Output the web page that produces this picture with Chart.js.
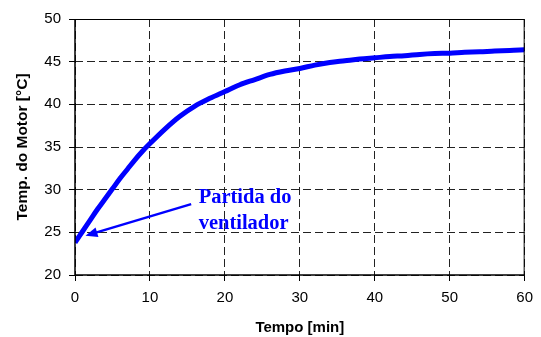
<!DOCTYPE html>
<html>
<head>
<meta charset="utf-8">
<script src="https://cdn.jsdelivr.net/npm/chart.js@4/dist/chart.umd.min.js"></script>
<style>
  html, body { margin: 0; padding: 0; background: #fff; }
  #wrap { width: 541px; height: 337px; position: relative; }
</style>
</head>
<body>
<div id="wrap"><canvas id="motorChart"></canvas></div>
<script>
// Data
const tempo = [0, 1, 2, 3, 4, 5, 6, 7, 8, 9, 10, 12, 14, 16, 18, 20, 22, 24, 26, 28, 30,
               32, 34, 36, 38, 40, 42, 44, 46, 48, 50, 52, 54, 56, 58, 60];
const temperatura = [23.8, 25.1, 26.4, 27.7, 28.9, 30.1, 31.3, 32.4, 33.5, 34.5, 35.4,
                     37.1, 38.6, 39.8, 40.7, 41.5, 42.3, 42.9, 43.5, 43.9, 44.2,
                     44.6, 44.9, 45.1, 45.3, 45.45, 45.6, 45.7, 45.85, 45.95, 46.0,
                     46.1, 46.15, 46.25, 46.3, 46.4];
const xTicks = [0, 10, 20, 30, 40, 50, 60];
const yTicks = [20, 25, 30, 35, 40, 45, 50];
const noteLines = ['Partida do', 'ventilador'];

// Frame + arrow + label, placed in data units
const annotationPlugin = {
    id: 'annotation',
    afterDatasetsDraw(chart) {
        const ctx = chart.ctx;
        const xs = chart.scales.x, ys = chart.scales.y;
        const area = chart.chartArea;
        ctx.save();
        // top + right frame
        ctx.strokeStyle = '#000';
        ctx.lineWidth = 1;
        ctx.beginPath();
        ctx.moveTo(area.left, area.top + 0.5);
        ctx.lineTo(area.right - 0.5, area.top + 0.5);
        ctx.lineTo(area.right - 0.5, area.bottom);
        ctx.stroke();
        // solid axis lines (left + bottom)
        ctx.lineWidth = 1.5;
        ctx.beginPath();
        ctx.moveTo(area.left, area.top);
        ctx.lineTo(area.left, area.bottom);
        ctx.lineTo(area.right, area.bottom);
        ctx.stroke();

        // arrow
        const x1 = xs.getPixelForValue(15.5), y1 = ys.getPixelForValue(28.3);
        const x2 = xs.getPixelForValue(1.4), y2 = ys.getPixelForValue(24.6);
        const ang = Math.atan2(y2 - y1, x2 - x1);
        ctx.strokeStyle = '#0000ff';
        ctx.fillStyle = '#0000ff';
        ctx.lineWidth = 2.5;
        ctx.beginPath();
        ctx.moveTo(x1, y1);
        ctx.lineTo(x2 - 9 * Math.cos(ang), y2 - 9 * Math.sin(ang));
        ctx.stroke();
        ctx.beginPath();
        ctx.moveTo(x2, y2);
        ctx.lineTo(x2 - 12 * Math.cos(ang) + 5 * Math.sin(ang), y2 - 12 * Math.sin(ang) - 5 * Math.cos(ang));
        ctx.lineTo(x2 - 12 * Math.cos(ang) - 5 * Math.sin(ang), y2 - 12 * Math.sin(ang) + 5 * Math.cos(ang));
        ctx.closePath();
        ctx.fill();

        // label
        ctx.font = 'bold 20.5px "Liberation Serif", "Times New Roman", serif';
        ctx.textAlign = 'left';
        ctx.textBaseline = 'middle';
        const tx = xs.getPixelForValue(16.5);
        ctx.fillText(noteLines[0], tx, ys.getPixelForValue(29.0));
        ctx.fillText(noteLines[1], tx, ys.getPixelForValue(26.05));
        ctx.restore();
    }
};

const gridOpts = {
    color: '#222',
    lineWidth: 1,
    tickLength: 6,
    tickBorderDash: [],
    tickColor: '#000'
};
const borderOpts = { display: false, dash: [8, 4] };

const ctx = document.getElementById('motorChart').getContext('2d');
new Chart(ctx, {
    type: 'line',
    data: {
        datasets: [{
            data: tempo.map((t, i) => ({ x: t, y: temperatura[i] })),
            borderColor: '#0000ff',
            borderWidth: 5,
            pointRadius: 0,
            cubicInterpolationMode: 'monotone',
            fill: false
        }]
    },
    options: {
        responsive: true,
        maintainAspectRatio: false,
        animation: false,
        layout: { padding: { top: 19, right: 12, left: 0, bottom: 0 } },
        plugins: {
            legend: { display: false },
            tooltip: { enabled: false }
        },
        scales: {
            x: {
                type: 'linear',
                min: 0,
                max: 60,
                afterBuildTicks(axis) { axis.ticks = xTicks.map(v => ({ value: v })); },
                afterFit(axis) { axis.height = 62; },
                grid: gridOpts,
                border: borderOpts,
                ticks: {
                    color: '#000',
                    padding: 8,
                    maxRotation: 0,
                    font: { family: '"Liberation Sans", Arial, sans-serif', size: 15 }
                },
                title: {
                    display: true,
                    text: 'Tempo [min]',
                    color: '#000',
                    padding: { top: 10, bottom: 0 },
                    font: { family: '"Liberation Sans", Arial, sans-serif', size: 15, weight: 'bold' }
                }
            },
            y: {
                min: 20,
                max: 50,
                afterBuildTicks(axis) { axis.ticks = yTicks.map(v => ({ value: v })); },
                afterFit(axis) { axis.width = 75; },
                grid: gridOpts,
                border: borderOpts,
                ticks: {
                    color: '#000',
                    padding: 8,
                    font: { family: '"Liberation Sans", Arial, sans-serif', size: 15 }
                },
                title: {
                    display: true,
                    text: 'Temp. do Motor [°C]',
                    color: '#000',
                    padding: { top: 13, bottom: 4 },
                    font: { family: '"Liberation Sans", Arial, sans-serif', size: 15.5, weight: 'bold' }
                }
            }
        }
    },
    plugins: [annotationPlugin]
});
</script>
</body>
</html>
